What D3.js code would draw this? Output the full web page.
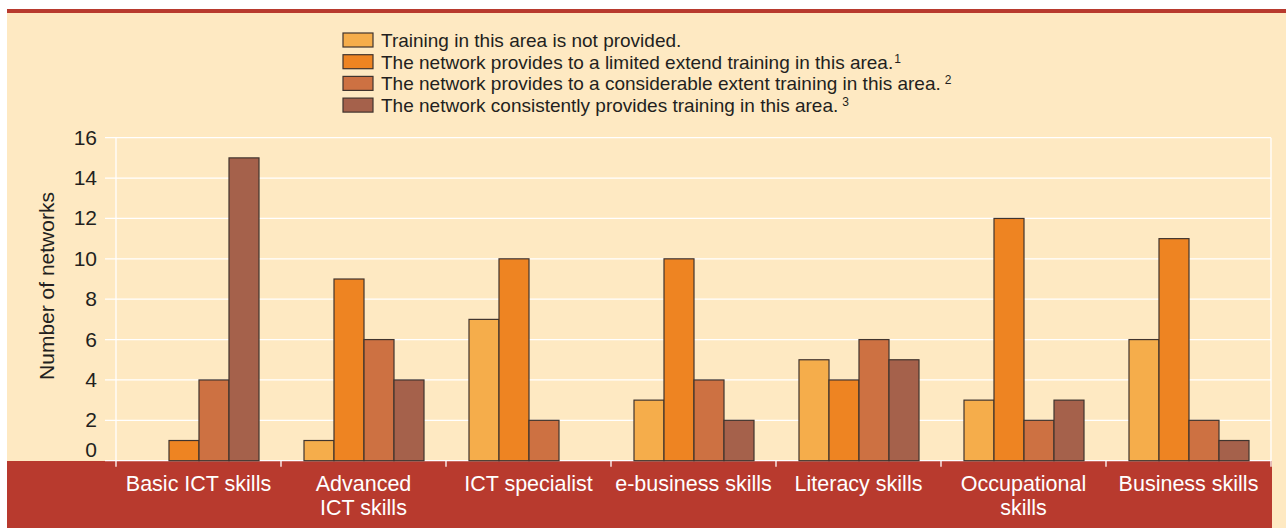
<!DOCTYPE html>
<html>
<head>
<meta charset="utf-8">
<script src="https://d3js.org/d3.v7.min.js"></script>
<style>
  body { margin: 0; background: #fff; }
  text { font-family: "Liberation Sans", Arial, sans-serif; }
</style>
</head>
<body>
<div id="chart"></div>
<script>
// Data
var categories = [
  ["Basic ICT skills"],
  ["Advanced", "ICT skills"],
  ["ICT specialist"],
  ["e-business skills"],
  ["Literacy skills"],
  ["Occupational", "skills"],
  ["Business skills"]
];
var notProvided  = [0, 1, 7, 3, 5, 3, 6];
var limited      = [1, 9, 10, 10, 4, 12, 11];
var considerable = [4, 6, 2, 4, 6, 2, 2];
var consistent   = [15, 4, 0, 2, 5, 3, 1];
var seriesNames = [
  ["Training in this area is not provided.", ""],
  ["The network provides to a limited extend training in this area.", "1"],
  ["The network provides to a considerable extent training in this area.", "2"],
  ["The network consistently provides training in this area.", "3"]
];
var yTicks = [0, 2, 4, 6, 8, 10, 12, 14, 16];

var colors = ["#f5ad4b", "#ee8422", "#cd7142", "#a5614b"];
var series = [notProvided, limited, considerable, consistent];

var width = 1286, height = 528;
var plot = { left: 116, right: 1271, top: 137.7, bottom: 460.7 };

var svg = d3.select("#chart").append("svg")
  .attr("width", width)
  .attr("height", height);

// background panels
svg.append("rect").attr("x", 7).attr("y", 9).attr("width", width - 7).attr("height", 452)
  .attr("fill", "#fee9c2");
svg.append("rect").attr("x", 7).attr("y", 9).attr("width", width - 7).attr("height", 4)
  .attr("fill", "#b83a2e");
svg.append("rect").attr("x", 7).attr("y", 461).attr("width", 1265).attr("height", 67)
  .attr("fill", "#b83a2e");
svg.append("rect").attr("x", 1272).attr("y", 461).attr("width", 14).attr("height", 67)
  .attr("fill", "#fee9c2");

var x0 = d3.scaleBand()
  .domain(d3.range(categories.length))
  .range([plot.left, plot.right]);

var x1 = d3.scaleBand()
  .domain(d3.range(series.length))
  .range([23, 143]);

var y = d3.scaleLinear()
  .domain([0, 16])
  .range([plot.bottom, plot.top]);

// gridlines
svg.append("g").selectAll("line")
  .data(yTicks)
  .enter()
  .append("line")
  .attr("x1", 105)
  .attr("x2", plot.right)
  .attr("y1", d => y(d))
  .attr("y2", d => y(d))
  .attr("stroke", "#fff")
  .attr("stroke-width", 1.3);

// vertical axis lines
svg.append("line").attr("x1", plot.left).attr("x2", plot.left)
  .attr("y1", plot.top).attr("y2", plot.bottom + 6)
  .attr("stroke", "#fff").attr("stroke-width", 1.3);
svg.append("line").attr("x1", plot.right).attr("x2", plot.right)
  .attr("y1", plot.top).attr("y2", plot.bottom + 6)
  .attr("stroke", "#fff").attr("stroke-width", 1.3);

// category tick marks
svg.append("g").selectAll("line")
  .data(d3.range(1, categories.length))
  .enter()
  .append("line")
  .attr("x1", d => x0(d))
  .attr("x2", d => x0(d))
  .attr("y1", plot.bottom)
  .attr("y2", plot.bottom + 6)
  .attr("stroke", "#fff")
  .attr("stroke-width", 1.3);

// bars
var groups = svg.append("g").selectAll("g")
  .data(categories)
  .enter()
  .append("g")
  .attr("transform", (d, i) => `translate(${x0(i)},0)`);

groups.selectAll("rect")
  .data((d, i) => series.map((s, j) => ({ s: j, v: s[i] })).filter(d => d.v > 0))
  .enter()
  .append("rect")
  .attr("x", d => x1(d.s))
  .attr("y", d => y(d.v))
  .attr("width", x1.bandwidth())
  .attr("height", d => y(0) - y(d.v))
  .attr("fill", d => colors[d.s])
  .attr("stroke", "#40342e")
  .attr("stroke-width", 1.2);

// y tick labels
svg.append("g").selectAll("text")
  .data(yTicks)
  .enter()
  .append("text")
  .attr("x", 97)
  .attr("y", d => d == 0 ? y(d) - 4 : y(d) + 7)
  .attr("text-anchor", "end")
  .attr("font-size", "21px")
  .attr("fill", "#231f20")
  .text(d => d);

// y title
svg.append("text")
  .attr("transform", "translate(54,286) rotate(-90)")
  .attr("text-anchor", "middle")
  .attr("font-size", "21px")
  .attr("fill", "#231f20")
  .text("Number of networks");

// category labels
var catLabels = svg.append("g").selectAll("text")
  .data(categories)
  .enter()
  .append("text")
  .attr("text-anchor", "middle")
  .attr("font-size", "21.5px")
  .attr("fill", "#fff")
  .attr("x", (d, i) => x0(i) + x0.bandwidth() / 2);

catLabels.selectAll("tspan")
  .data(d => d)
  .enter()
  .append("tspan")
  .attr("x", function () { return d3.select(this.parentNode).attr("x"); })
  .attr("y", (d, i) => 491 + i * 24)
  .text(d => d);

// legend
var legend = svg.append("g").selectAll("g")
  .data(seriesNames)
  .enter()
  .append("g")
  .attr("transform", (d, i) => `translate(343,${33 + i * 21.7})`);

legend.append("rect")
  .attr("width", 30)
  .attr("height", 14)
  .attr("fill", (d, i) => colors[i])
  .attr("stroke", "#40342e")
  .attr("stroke-width", 1.2);

var legendText = legend.append("text")
  .attr("x", 38)
  .attr("y", 14)
  .attr("font-size", "19px")
  .attr("fill", "#231f20");

legendText.append("tspan").text(d => d[0]);
legendText.append("tspan")
  .attr("dx", (d, i) => i >= 2 ? 4 : 1)
  .attr("dy", -6)
  .attr("font-size", "12px")
  .text(d => d[1]);
</script>
</body>
</html>
